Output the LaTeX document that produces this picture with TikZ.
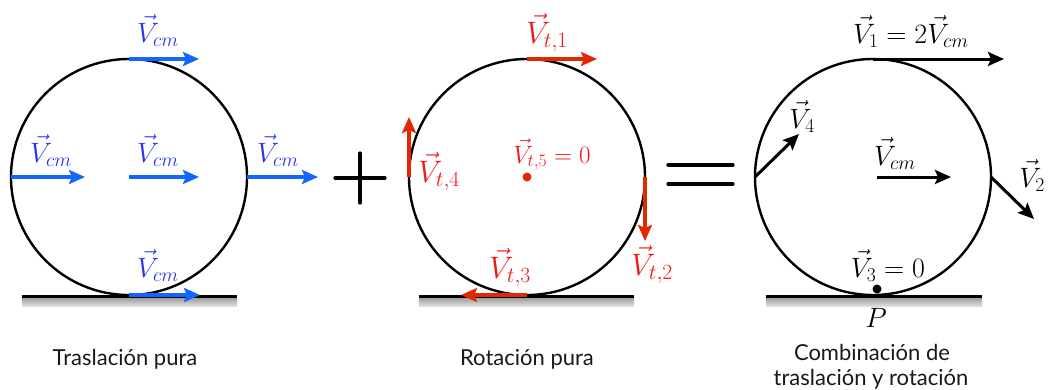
\RequirePackage{fix-cm}
\documentclass[tikz,border=0pt]{standalone}
\usepackage{fontspec}
\newfontfamily\labfont{Lato}
\usetikzlibrary{arrows.meta}
\definecolor{arrblue}{RGB}{16,102,255}
\definecolor{txtblue}{RGB}{40,50,240}
\definecolor{arrred}{RGB}{226,40,0}
\definecolor{txtred}{RGB}{240,25,25}
\begin{document}
\begin{tikzpicture}[x=1pt,y=-1pt,
  wheel/.style={draw,circle,line width=2.4pt,minimum size=236pt,inner sep=0pt,outer sep=0pt},
  vec/.style={line width=3.4pt,-{Stealth[length=16pt,width=14pt,inset=3pt]}},
  bluevec/.style={vec,arrblue},
  redvec/.style={vec,arrred},
  blackvec/.style={vec,black,line width=3pt},
  mlab/.style={anchor=base,inner sep=0pt,font=\fontsize{28}{30}\selectfont},
  bluelab/.style={mlab,text=txtblue},
  redlab/.style={mlab,text=txtred,font=\fontsize{31}{33}\selectfont},
  smallred/.style={mlab,text=txtred,font=\fontsize{25}{27}\selectfont},
  blacklab/.style={mlab,text=black},
  caption/.style={anchor=base,inner sep=0pt,font=\labfont\fontsize{22}{25}\selectfont,text=black!90},
  dot/.style={circle,fill,inner sep=0pt,minimum size=9pt},
  sign/.style={line width=3.2pt,line cap=round}
]
\useasboundingbox (0,0) rectangle (1049,389);

% ground
\foreach \a/\b in {22/237, 419/634, 766/982} {
  \shade[top color=gray!75,bottom color=gray!25] (\a,298) rectangle (\b,306);
  \draw[line width=3.4pt] (\a,296.5) -- (\b,296.5);
}

% wheels
\node[wheel] (w1) at (129,177) {};
\node[wheel] (w2) at (527,177) {};
\node[wheel] (w3) at (873,177) {};

% translation
\coordinate (b1) at (199,59);
\coordinate (b2) at (199,177);
\coordinate (b3) at (85,177);
\coordinate (b4) at (318,177);
\coordinate (b5) at (200,295);
\draw[bluevec] (w1.north) -- (b1);
\draw[bluevec] (w1.center) -- (b2);
\draw[bluevec] (w1.west) -- (b3);
\draw[bluevec] (w1.east) -- (b4);
\draw[bluevec] (w1.south) -- (b5);
\node[bluelab] (lb1) at (158,42) {$\vec V_{cm}$};
\node[bluelab] (lb2) at (158,162) {$\vec V_{cm}$};
\node[bluelab] (lb3) at (51,162) {$\vec V_{cm}$};
\node[bluelab] (lb4) at (278,162) {$\vec V_{cm}$};
\node[bluelab] (lb5) at (158,277) {$\vec V_{cm}$};

% rotation
\coordinate (r1) at (597,59);
\coordinate (r4) at (409,117);
\coordinate (r2) at (645,241);
\coordinate (r3) at (461,295);
\draw[redvec] (w2.north) -- (r1);
\draw[redvec] (w2.west) -- (r4);
\draw[redvec] (w2.east) -- (r2);
\draw[redvec] (w2.south) -- (r3);
\node[dot,arrred] (c5) at (w2.center) {};
\node[redlab] (lr1) at (547,43) {$\vec V_{t,1}$};
\node[smallred] (lr5) at (552,163) {$\vec V_{t,5}=0$};
\node[redlab] (lr4) at (439,182) {$\vec V_{t,4}$};
\node[redlab] (lr2) at (652,275) {$\vec V_{t,2}$};
\node[redlab] (lr3) at (510,278) {$\vec V_{t,3}$};

% combination
\coordinate (k1) at (1004,59);
\coordinate (k0s) at (877,177);
\coordinate (k0) at (951,177);
\coordinate (k4) at (799,134);
\coordinate (k2) at (1034,219);
\draw[blackvec] (w3.north) -- (k1);
\draw[blackvec] (k0s) -- (k0);
\draw[blackvec] (w3.west) -- (k4);
\draw[blackvec] (w3.east) -- (k2);
\node[dot] (p) at (877,289) {};
\node[blacklab] (lk1) at (911,43) {$\vec V_1 = 2\vec V_{cm}$};
\node[blacklab] (lk4) at (802,128) {$\vec V_4$};
\node[blacklab] (lk0) at (895,165) {$\vec V_{cm}$};
\node[blacklab] (lk2) at (1032,187) {$\vec V_2$};
\node[blacklab] (lk3) at (888,277) {$\vec V_3 = 0$};
\node[blacklab] (lp) at (876,327) {$P$};

% signs
\draw[sign] (335,178) -- (385,178) (360,153) -- (360,203);
\draw[sign] (668,165) -- (733,165) (668,184) -- (733,184);

% captions
\node[caption] (t1) at (125,365) {Traslación pura};
\node[caption] (t2) at (527,365) {Rotación pura};
\node[caption] (t3) at (872,360) {Combinación de};
\node[caption] (t4) at (871,385) {traslación y rotación};
\end{tikzpicture}
\end{document}
